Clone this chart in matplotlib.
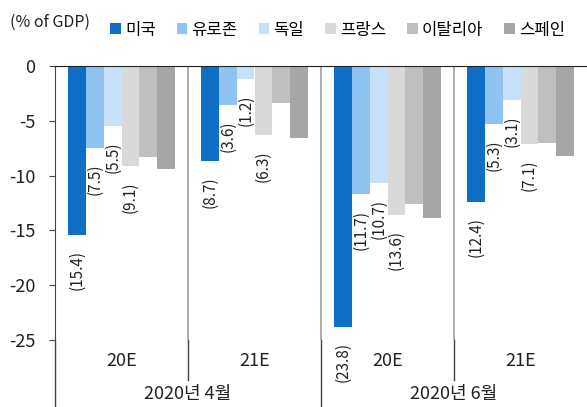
import matplotlib
matplotlib.use("Agg")
import matplotlib.pyplot as plt
import matplotlib.transforms as mtransforms
from matplotlib.patches import Patch

plt.rcParams['font.family'] = ['Noto Sans CJK KR', 'DejaVu Sans']
plt.rcParams['axes.unicode_minus'] = False

# data
countries = ['미국', '유로존', '독일', '프랑스', '이탈리아', '스페인']
periods = ['20E', '21E', '20E', '21E']
groups = ['2020년 4월', '2020년 6월']
us = [-15.4, -8.7, -23.8, -12.4]
eurozone = [-7.5, -3.6, -11.7, -5.3]
germany = [-5.5, -1.2, -10.7, -3.1]
france = [-9.1, -6.3, -13.6, -7.1]
italy = [-8.3, -3.4, -12.6, -7.0]
spain = [-9.4, -6.6, -13.9, -8.2]
series = [us, eurozone, germany, france, italy, spain]
labelled = 4  # only first four series get value labels

colors = ['#0f6fc6', '#8fc3f1', '#c6e1f9', '#d9d9d9', '#bfbfbf', '#a6a6a6']

W, H = 587, 407
fig = plt.figure(figsize=(W / 100, H / 100), dpi=100)
ax = fig.add_axes([55 / W, (H - 340) / H, (W - 55) / W, (340 - 66) / H])

bw = 0.8 / len(series)
for i, vals in enumerate(series):
    xs = [c - 0.4 + bw * (i + 0.5) for c in range(len(periods))]
    ax.bar(xs, vals, width=bw, color=colors[i], edgecolor='none', zorder=2)
    if i < labelled:
        for x, v in zip(xs, vals):
            ax.annotate('(%.1f)' % abs(v), (x, v), xytext=(0, -11),
                        textcoords='offset points', rotation=90,
                        ha='center', va='top', fontsize=11, color='#222222')

ax.set_xlim(-0.5, len(periods) - 0.5)
ax.set_ylim(-25, 0)
ax.set_yticks([0, -5, -10, -15, -20, -25])
ax.set_yticklabels(['0', '-5', '-10', '-15', '-20', '-25'])
ax.tick_params(axis='y', direction='out', length=4, labelsize=13, pad=10,
               color='#444444', labelcolor='#222222')
ax.set_xticks([])
for s in ['right', 'bottom']:
    ax.spines[s].set_visible(False)
ax.spines['top'].set_color('#222222')
ax.spines['left'].set_color('#444444')

# separators
for x in [0.5, 1.5, 2.5]:
    ax.axvline(x, color='#a0a0a0', lw=1.2, zorder=1)
tr = mtransforms.blended_transform_factory(ax.transData, ax.transAxes)
below_small = -(380 - 340) / (340 - 66)
below_full = -(H - 340) / (340 - 66)
for x, bot in [(-0.5, below_full), (0.5, below_small), (1.5, below_full), (2.5, below_small)]:
    ax.plot([x, x], [0, bot], transform=tr, color='#444444', lw=1, clip_on=False)

# category labels
y1 = -(361 - 340) / (340 - 66)
y2 = -(394 - 340) / (340 - 66)
for c, p in enumerate(periods):
    ax.text(c, y1, p, transform=tr, ha='center', va='center', fontsize=13, color='#222222')
for g, name in enumerate(groups):
    ax.text(2 * g + 0.5, y2, name, transform=tr, ha='center', va='center',
            fontsize=13, color='#222222')

# legend
fig.text(10 / W, 1 - 22 / H, '(% of GDP)', ha='left', va='center', fontsize=11.5, color='#222222')
handles = [Patch(facecolor=c, edgecolor='none') for c in colors]
fig.legend(handles, countries, loc='center left', bbox_to_anchor=(110 / W, 1 - 30 / H),
           ncol=6, frameon=False, fontsize=12, handlelength=0.65, handleheight=0.65,
           handletextpad=0.25, columnspacing=1.25, borderaxespad=0, borderpad=0)

fig.savefig('out.png', dpi=100)
